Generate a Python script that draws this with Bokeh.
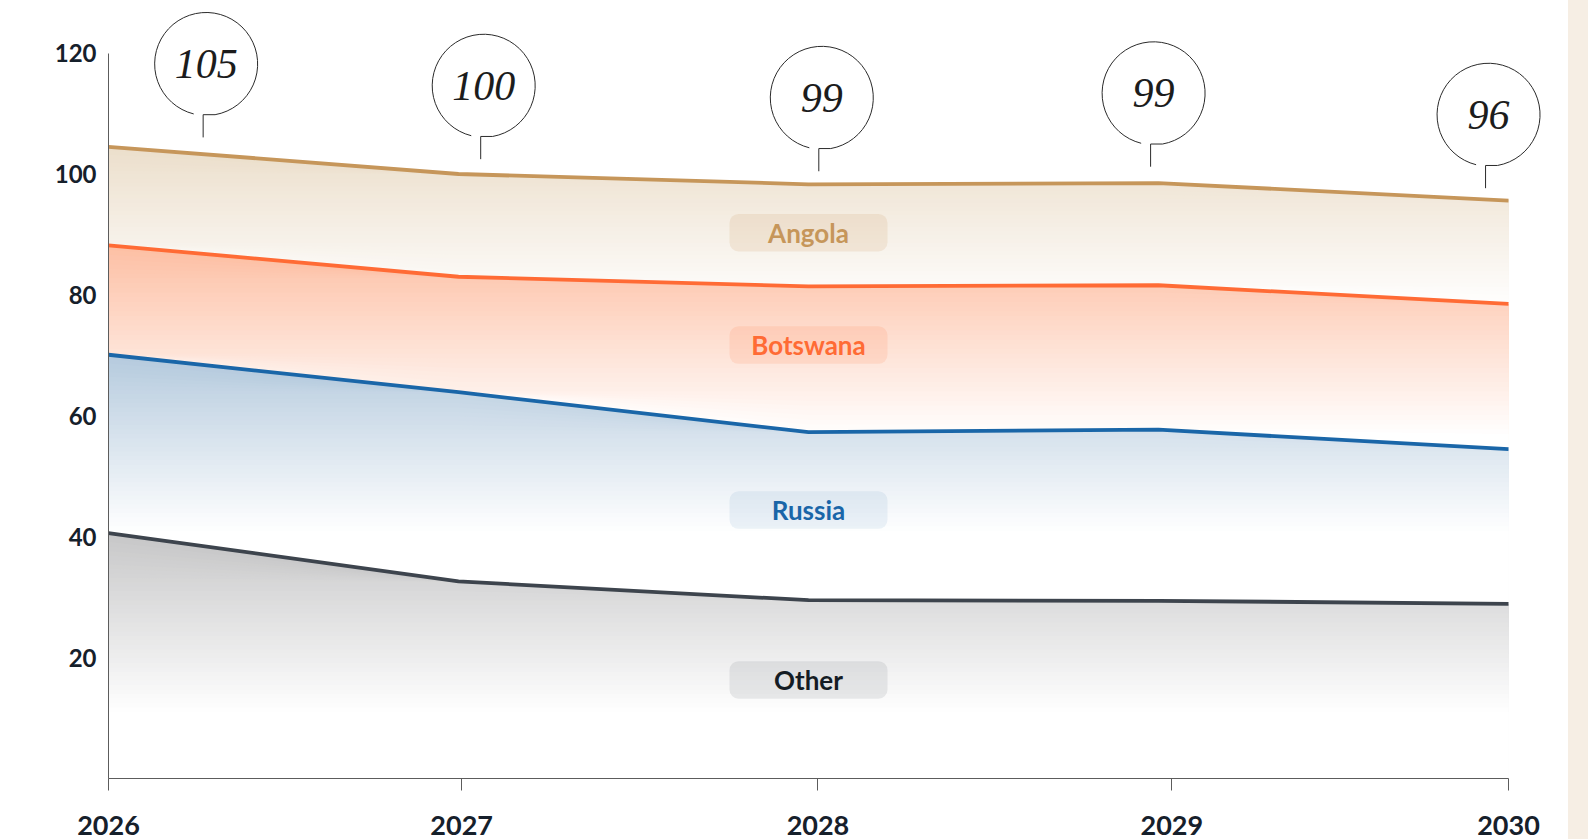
import numpy as np
from bokeh.plotting import figure
from bokeh.models import FixedTicker, Label, BoxAnnotation, Range1d, Div
from bokeh.layouts import row
from bokeh.embed import file_html
from bokeh.resources import INLINE
from bokeh.core.properties import value

# ---------------- data ----------------
years = [2026, 2027, 2028, 2029, 2030]
other = [40.6, 32.6, 29.5, 29.4, 28.9]
russia = [29.5, 31.3, 27.8, 28.3, 25.6]
botswana = [18.1, 19.1, 24.1, 23.9, 24.0]
angola = [16.3, 17.0, 16.9, 16.9, 17.1]
series_names = ["Other", "Russia", "Botswana", "Angola"]
total_labels = ["105", "100", "99", "99", "96"]
y_ticks = [20, 40, 60, 80, 100, 120]
x_tick_labels = ["2026", "2027", "2028", "2029", "2030"]

# ---------------- styles / positions ----------------
x_tick_pos = [2026, 2027.009, 2028.027, 2029.038, 2030]
line_colors = ["#3d444d", "#1a66a8", "#ff6b35", "#c6965a"]
top_rgb = [(200, 200, 201), (182, 203, 222), (253, 192, 165), (236, 223, 204)]
white_level = [11, 41, 57, 78]
label_y = [16.3, 44.4, 71.7, 90.3]
label_text_colors = ["#141c24", "#1a66a8", "#ff6b35", "#c6965a"]
label_box_colors = ["#3d444d", "#1a66a8", "#ff6b35", "#c6965a"]
label_box_alpha = [0.10, 0.08, 0.12, 0.15]
label_x = 2028
bubble_x = [2026.279, 2027.072, 2028.038, 2028.986, 2029.943]
bubble_y = [118.2, 114.6, 112.6, 113.35, 109.8]

W, H = 1568, 839
ML, MR, MT, MB = 108, 20, 11, 61
frame_w = W - ML - MR
frame_h = H - MT - MB
px_x = 350.0
px_y = 6.045
x_start = 2026
x_end = x_start + frame_w / px_x
y_end = frame_h / px_y

p = figure(width=W, height=H, output_backend="svg", toolbar_location=None,
           x_range=Range1d(x_start, x_end), y_range=Range1d(0, y_end),
           min_border_left=ML, min_border_right=MR, min_border_top=MT,
           min_border_bottom=MB)
p.outline_line_color = None
p.xgrid.grid_line_color = None
p.ygrid.grid_line_color = None
p.background_fill_color = "white"
p.border_fill_color = "white"

# stacked values
stack = np.cumsum(np.array([other, russia, botswana, angola], dtype=float), axis=0)
x = np.array(years, dtype=float)

def lerp(c, t):
    r = [int(round(c[k] + (255 - c[k]) * t)) for k in range(3)]
    return "#%02x%02x%02x" % tuple(r)

N = 40
for i in range(4):
    b = stack[i - 1] if i > 0 else np.zeros(len(x))
    t = stack[i]
    tmax = t.max()
    wl = white_level[i]
    p.varea(x=x, y1=b, y2=t, fill_color=lerp(top_rgb[i], 0.0))
    for j in range(1, N + 1):
        L = tmax - (tmax - wl) * j / N
        y2 = np.maximum(b, np.minimum(t, L))
        if np.all(y2 <= b):
            continue
        p.varea(x=x, y1=b, y2=y2, fill_color=lerp(top_rgb[i], j / N))

for i in range(4):
    p.line(x, stack[i], line_color=line_colors[i], line_width=3.8)

# label boxes + labels
for i in range(4):
    hw = 79 / px_x
    hh = 18.75 / px_y
    p.add_layout(BoxAnnotation(left=label_x - hw, right=label_x + hw,
                               bottom=label_y[i] - hh, top=label_y[i] + hh,
                               fill_color=label_box_colors[i], fill_alpha=label_box_alpha[i],
                               line_alpha=0, border_radius=9))
    p.add_layout(Label(x=label_x, y=label_y[i], text=series_names[i],
                       text_align="center", text_baseline="middle",
                       text_font="Lato", text_font_size="26px", text_font_style="bold",
                       text_color=label_text_colors[i]))

# bubbles
r = 51.5
a0 = np.deg2rad(-80)
a1 = np.deg2rad(256)
p.arc(x=bubble_x, y=bubble_y, radius=r, radius_units="screen",
      start_angle=a0, end_angle=a1, direction="anticlock",
      line_color="#2a2a2a", line_width=1)
xs, ys = [], []
for bx, by in zip(bubble_x, bubble_y):
    hx = bx + r * np.cos(a0) / px_x
    tx = bx - 3 / px_x
    hy = by + r * np.sin(a0) / px_y
    ty = hy - 22.7 / px_y
    xs.append([hx, tx, tx])
    ys.append([hy, hy, ty])
p.multi_line(xs=xs, ys=ys, line_color="#2a2a2a", line_width=1)
p.text(x=bubble_x, y=bubble_y, text=total_labels,
       text_font=value("Liberation Serif"), text_font_style="italic",
       text_font_size="42px", text_align="center", text_baseline="middle",
       text_color="#1c1c1c")

# axes
p.xaxis.ticker = FixedTicker(ticks=x_tick_pos)
p.xaxis.major_label_overrides = {pos: lab for pos, lab in zip(x_tick_pos, x_tick_labels)}
p.xaxis.bounds = (2026, 2030)
p.xaxis.axis_line_color = "#5c5c5c"
p.xaxis.major_tick_line_color = "#5c5c5c"
p.xaxis.major_tick_out = 12
p.xaxis.major_tick_in = 0
p.xaxis.minor_tick_line_color = None
p.xaxis.major_label_standoff = 25
p.xaxis.major_label_text_font = "Lato"
p.xaxis.major_label_text_font_style = "bold"
p.xaxis.major_label_text_font_size = "27px"
p.xaxis.major_label_text_color = "#16202b"

p.yaxis.ticker = FixedTicker(ticks=y_ticks)
p.yaxis.bounds = (0, 120)
p.yaxis.axis_line_color = "#5c5c5c"
p.yaxis.major_tick_line_color = None
p.yaxis.major_tick_out = 0
p.yaxis.major_tick_in = 0
p.yaxis.minor_tick_line_color = None
p.yaxis.major_label_standoff = 12
p.yaxis.major_label_text_font = "Lato"
p.yaxis.major_label_text_font_style = "bold"
p.yaxis.major_label_text_font_size = "24px"
p.yaxis.major_label_text_color = "#16202b"

strip = Div(width=20, height=H, margin=0, styles={"background-color": "#f6eee4"})
layout = row(p, strip)

open("out.html", "w").write(file_html(layout, INLINE))
